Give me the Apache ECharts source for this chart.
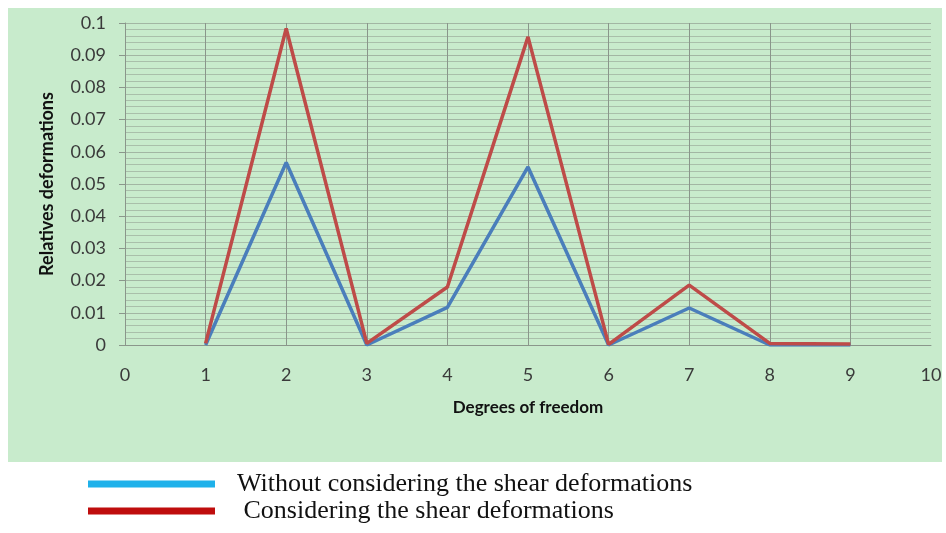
<!DOCTYPE html>
<html>
<head>
<meta charset="utf-8">
<script src="https://cdn.jsdelivr.net/npm/echarts@6/dist/echarts.min.js"></script>
<style>html,body{margin:0;padding:0;background:#fff;}#c{width:946px;height:533px;}</style>
</head>
<body>
<div id="c"></div>
<script>
var degrees = [1, 2, 3, 4, 5, 6, 7, 8, 9];
var withoutShear = [0, 0.0567, 0, 0.0117, 0.0553, 0, 0.0115, 0, 0];
var withShear = [0.0005, 0.0983, 0.0005, 0.018, 0.0957, 0.0002, 0.0186, 0.0005, 0.0003];
var seriesNames = ['Without considering the shear deformations', ' Considering the shear deformations'];
var xTicks = [0, 10, 1];
var yTicks = [0, 0.1, 0.01];

var chart = echarts.init(document.getElementById('c'), null, {renderer: 'canvas'});
var vColors = [];
for (var i = 0; i <= 10; i++) vColors.push(i === 10 || i === 0 ? 'rgba(0,0,0,0)' : '#8a968b');
var font = 'Lato, "Open Sans", sans-serif';
chart.setOption({
  animation: false,
  backgroundColor: '#ffffff',
  graphic: [{type: 'rect', z: -10, shape: {x: 8, y: 8, width: 934, height: 454}, style: {fill: '#c8ebcc'}}],
  grid: {left: 125, right: 15, top: 23, bottom: 188},
  legend: {
    orient: 'vertical', left: 83, top: 466, itemWidth: 127, itemHeight: 7, itemGap: 1,
    icon: 'rect',
    textStyle: {fontFamily: '"Liberation Serif", "DejaVu Serif", serif', fontSize: 26, color: '#111', padding: [0, 0, 0, 17]},
    data: [
      {name: seriesNames[0], itemStyle: {color: '#1fb1ea'}},
      {name: seriesNames[1], itemStyle: {color: '#bf0d0d'}}
    ]
  },
  xAxis: {
    type: 'value', min: xTicks[0], max: xTicks[1], interval: xTicks[2],
    name: 'Degrees of freedom', nameLocation: 'middle', nameGap: 54,
    nameTextStyle: {fontFamily: font, fontWeight: 'bold', fontSize: 17, color: '#111'},
    axisLine: {show: true, lineStyle: {color: '#8a968b', width: 1}},
    axisTick: {show: false},
    axisLabel: {margin: 21, fontFamily: font, fontSize: 18, color: '#3a3a3a'},
    splitLine: {show: true, lineStyle: {color: vColors, width: 1}}
  },
  yAxis: {
    type: 'value', min: yTicks[0], max: yTicks[1], interval: yTicks[2],
    name: 'Relatives deformations', nameLocation: 'middle', nameGap: 69, nameRotate: 90,
    nameTextStyle: {fontFamily: font, fontWeight: 'bold', fontSize: 18, color: '#111'},
    axisLine: {show: true, lineStyle: {color: '#8a968b', width: 1}},
    axisTick: {show: true, length: 6, lineStyle: {color: '#8a968b'}},
    axisLabel: {margin: 19, fontFamily: font, fontSize: 18, color: '#3a3a3a',
      formatter: function (v) { return String(+v.toFixed(2)); }},
    splitLine: {show: true, lineStyle: {color: '#a2b6a3', width: 1}},
    minorTick: {show: false, splitNumber: 5},
    minorSplitLine: {show: true, lineStyle: {color: '#a9bfaa', width: 1}}
  },
  series: [
    {name: seriesNames[0], type: 'line', showSymbol: false, symbol: 'none',
     lineStyle: {color: '#4a7ebb', width: 3.5}, itemStyle: {color: '#4a7ebb'},
     data: degrees.map(function (d, i) { return [d, withoutShear[i]]; })},
    {name: seriesNames[1], type: 'line', showSymbol: false, symbol: 'none',
     lineStyle: {color: '#be4b48', width: 3.5}, itemStyle: {color: '#be4b48'},
     data: degrees.map(function (d, i) { return [d, withShear[i]]; })}
  ]
});
</script>
</body>
</html>
